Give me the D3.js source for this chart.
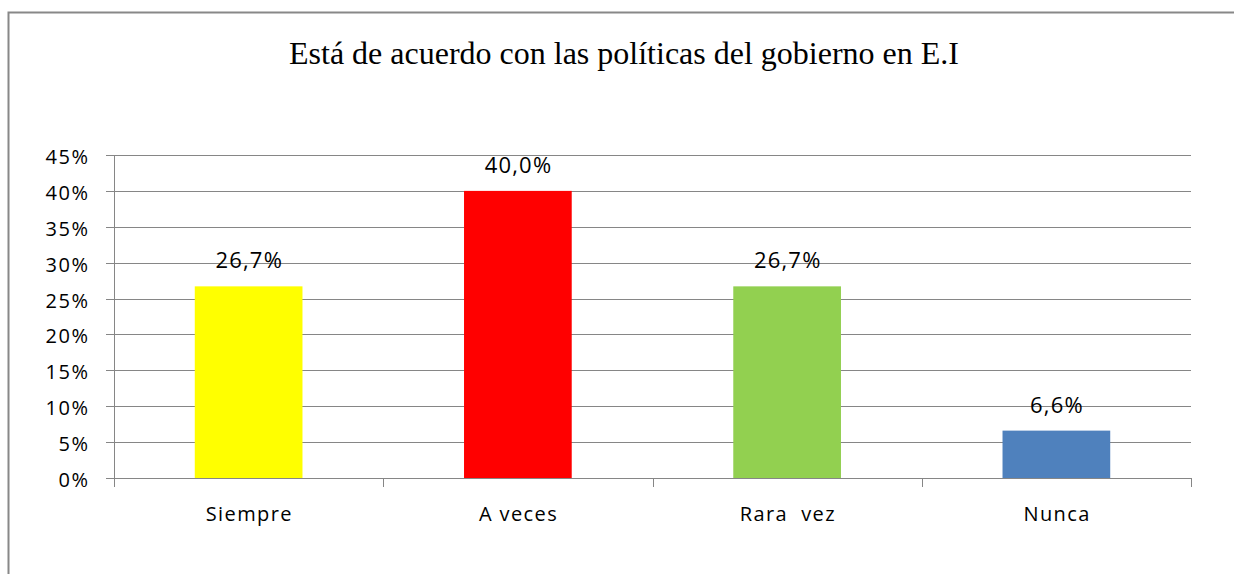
<!DOCTYPE html>
<html><head><meta charset="utf-8">
<script src="https://cdn.jsdelivr.net/npm/d3@7"></script>
<style>body{margin:0;background:#fff}svg{display:block}</style>
</head><body>
<script>
const title = "Está de acuerdo con las políticas del gobierno en E.I";
const categories = ["Siempre", "A veces", "Rara  vez", "Nunca"];
const values = [0.267, 0.400, 0.267, 0.066];
const valueLabels = ["26,7%", "40,0%", "26,7%", "6,6%"];
const colors = ["#FFFF00", "#FF0000", "#92D050", "#4F81BD"];
const yTicks = [0, 0.05, 0.10, 0.15, 0.20, 0.25, 0.30, 0.35, 0.40, 0.45];

(function () {
const W = 1234, H = 574;
const svg = d3.select("body").append("svg").attr("width", W).attr("height", H);
svg.append("rect").attr("width", W).attr("height", H).attr("fill", "#fff");

svg.append("path").attr("d", `M8.5,${H} V12.5 H${W}`).attr("fill", "none").attr("stroke", "#888").attr("stroke-width", 2);

svg.append("text").attr("x", 624).attr("y", 64).attr("text-anchor", "middle")
  .attr("font-family", "Liberation Serif, Times New Roman, serif").attr("font-size", 32)
  .attr("fill", "#000").text(title);

const pLeft = 114, pRight = 1191, pTop = 155, pBottom = 478;
const x = d3.scaleBand().domain(categories).range([pLeft, pRight]).paddingInner(0.6).paddingOuter(0.3);
const xOuter = d3.scaleBand().domain(categories).range([pLeft, pRight]);
const y = d3.scaleLinear().domain([0, 0.45]).range([pBottom, pTop]);

const font = "Open Sans, Noto Sans, sans-serif";
const grid = "#868686";

svg.append("g").selectAll("line").data(yTicks).join("line")
  .attr("x1", pLeft - 8).attr("x2", pRight)
  .attr("y1", d => Math.round(y(d)) + 0.5).attr("y2", d => Math.round(y(d)) + 0.5)
  .attr("stroke", grid).attr("stroke-width", 1);

svg.append("line").attr("x1", pLeft + 0.5).attr("x2", pLeft + 0.5).attr("y1", pTop).attr("y2", pBottom + 8)
  .attr("stroke", grid);

const xt = categories.map(c => xOuter(c)).concat([pRight]);
svg.append("g").selectAll("line").data(xt).join("line")
  .attr("x1", d => Math.round(d) + 0.5).attr("x2", d => Math.round(d) + 0.5)
  .attr("y1", pBottom).attr("y2", pBottom + 9).attr("stroke", grid);

svg.append("g").selectAll("text").data(yTicks).join("text")
  .attr("x", 89.5).attr("y", d => y(d) + 9).attr("text-anchor", "end")
  .attr("font-family", font).attr("font-size", 20).attr("letter-spacing", 1.5).attr("fill", "#000")
  .text(d => Math.round(d * 100) + "%");

svg.append("g").selectAll("rect").data(values).join("rect")
  .attr("x", (d, i) => x(categories[i])).attr("width", x.bandwidth())
  .attr("y", d => y(d)).attr("height", d => pBottom - y(d))
  .attr("fill", (d, i) => colors[i]);

svg.append("g").selectAll("text").data(values).join("text")
  .attr("x", (d, i) => x(categories[i]) + x.bandwidth() / 2 + 0.6)
  .attr("y", d => y(d) - 18).attr("text-anchor", "middle")
  .attr("font-family", font).attr("font-size", 22).attr("letter-spacing", 1.2).attr("fill", "#000")
  .text((d, i) => valueLabels[i]);

svg.append("g").selectAll("text").data(categories).join("text")
  .attr("x", c => x(c) + x.bandwidth() / 2 + 0.7).attr("y", 521).attr("text-anchor", "middle")
  .attr("font-family", font).attr("font-size", 20).attr("letter-spacing", 1.4).attr("fill", "#000")
  .style("white-space", "pre").text(c => c);
})();
</script>
</body></html>
